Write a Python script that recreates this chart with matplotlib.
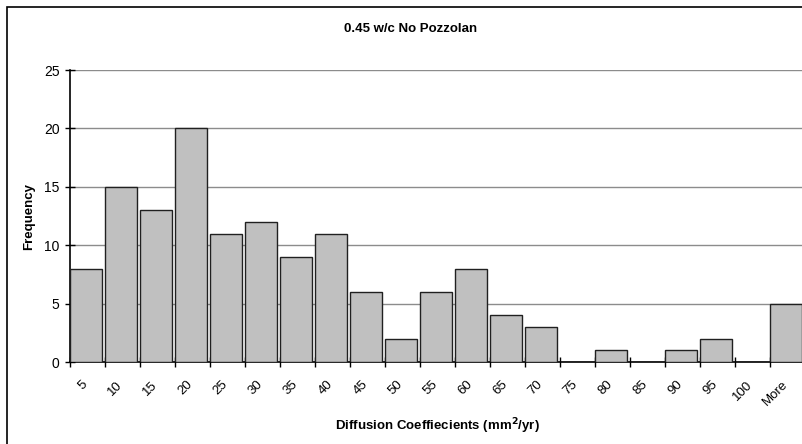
import numpy as np
import matplotlib.pyplot as plt
import matplotlib.transforms as mtransforms
from matplotlib.patches import Rectangle

plt.rcParams['font.family'] = ['Liberation Sans', 'DejaVu Sans']

bins = ['5', '10', '15', '20', '25', '30', '35', '40', '45', '50', '55', '60',
        '65', '70', '75', '80', '85', '90', '95', '100', 'More']
freq = [8, 15, 13, 20, 11, 12, 9, 11, 6, 2, 6, 8, 4, 3, 0, 1, 0, 1, 2, 0, 5]

W, H = 802, 444
fig = plt.figure(figsize=(W / 100, H / 100), dpi=100)

# chart border (cropped at right and bottom like the original)
fig.patches.append(Rectangle((7 / W, -0.1), 1.2, 1.1 - 7 / H, transform=fig.transFigure,
                             fill=False, edgecolor='black', linewidth=1.2))

ax = fig.add_axes([70 / W, (H - 362) / H, 735 / W, 292 / H])
x = np.arange(len(bins))
ax.bar(x + 0.46, freq, width=0.92, color='#c0c0c0', edgecolor='#202020', linewidth=1, zorder=3)

ax.set_xlim(0, len(bins))
ax.set_ylim(0, 25)
ax.set_yticks([0, 5, 10, 15, 20, 25])
ax.yaxis.grid(True, color='#8c8c8c', linewidth=1)
ax.set_axisbelow(True)

ax.set_xticks(x + 0.5)
ax.set_xticklabels(bins, rotation=45, ha='right', rotation_mode='anchor')
ax.set_xticks(np.arange(len(bins) + 1), minor=True)
ax.tick_params(axis='x', which='major', length=0, pad=12, labelsize=9.5)
ax.tick_params(axis='x', which='minor', direction='inout', length=7, width=1)
ax.tick_params(axis='y', direction='inout', length=7, width=1, labelsize=10, pad=4)

# nudge rotated labels left so they end just before the bar centre
shift = mtransforms.ScaledTranslation(-6 / 100, 0, fig.dpi_scale_trans)
for lab in ax.get_xticklabels():
    lab.set_transform(lab.get_transform() + shift)

for s in ['top', 'right']:
    ax.spines[s].set_visible(False)
ax.spines['left'].set_linewidth(1.2)
ax.spines['bottom'].set_linewidth(1.2)

fig.text(411 / W, 1 - 29 / H, '0.45 w/c No Pozzolan', ha='center', va='center',
         fontsize=9.5, fontweight='bold')
fig.text(29 / W, 1 - 216 / H, 'Frequency', ha='center', va='center', rotation=90,
         fontsize=9.5, fontweight='bold')
fig.text(437 / W, 1 - 426 / H, 'Diffusion Coeffiecients (mm$^{\\mathbf{2}}$/yr)', ha='center',
         va='center', fontsize=9.5, fontweight='bold')

fig.savefig('out.png', dpi=100)
